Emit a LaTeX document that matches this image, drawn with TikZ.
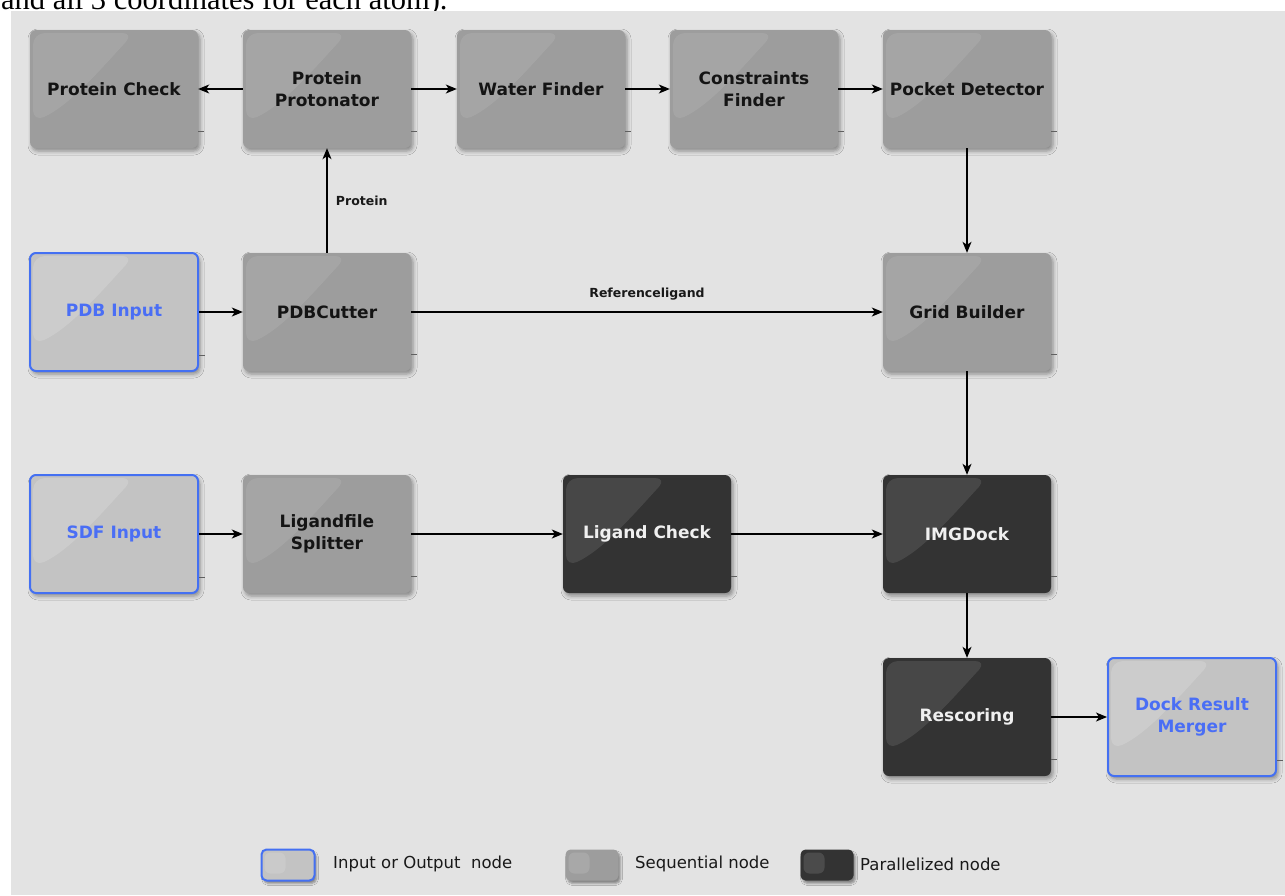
\documentclass[tikz,border=0pt]{standalone}
\usepackage{fontspec}
\setmainfont{DejaVu Sans}
\newfontfamily\serifx{Liberation Serif}
\usetikzlibrary{arrows.meta,shadows.blur,calc}
\definecolor{bgc}{HTML}{E3E3E3}
\definecolor{iofill}{HTML}{C3C3C3}
\definecolor{seqfill}{HTML}{9D9D9D}
\definecolor{parfill}{HTML}{333333}
\definecolor{blueb}{HTML}{4470F2}
\definecolor{bluet}{HTML}{4A6EF5}
\begin{document}
\begin{tikzpicture}[x=1pt,y=-1pt,
  box/.style={rectangle,rounded corners=6pt,minimum width=168pt,minimum height=118pt,inner sep=0pt,align=center,
    font=\bfseries\fontsize{17}{22}\selectfont,
    blur shadow={shadow xshift=2pt,shadow yshift=-3pt,shadow blur radius=4pt,shadow opacity=40}},
  gloss/.style={path picture={\fill[white,fill opacity=#1,rounded corners=12pt]
      ([shift={(3,3)}]path picture bounding box.north west) --
      ([shift={(104,3)}]path picture bounding box.north west)
      .. controls ([shift={(70,40)}]path picture bounding box.north west) and ([shift={(40,75)}]path picture bounding box.north west) ..
      ([shift={(3,92)}]path picture bounding box.north west) -- cycle;}},
  iobox/.style={box,fill=iofill,draw=blueb,line width=2pt,text=bluet,gloss=0.16},
  seqbox/.style={box,fill=seqfill,text=black!92,gloss=0.09},
  parbox/.style={box,fill=parfill,text=white!94!black,gloss=0.1},
  legbox/.style={rectangle,rounded corners=5pt,minimum width=53pt,minimum height=31pt,inner sep=0pt,
    blur shadow={shadow xshift=2pt,shadow yshift=-3pt,shadow blur radius=2pt,shadow opacity=40},
    path picture={\fill[white,fill opacity=0.12,rounded corners=6pt]
      ([shift={(3,3)}]path picture bounding box.north west) rectangle
      ([shift={(24,24)}]path picture bounding box.north west);}},
  arr/.style={-{Stealth[length=11pt,width=9pt,inset=3pt]},line width=1.2pt,black},
  lab/.style={font=\bfseries\fontsize{12.5}{14}\selectfont,text=black!90},
  legtext/.style={font=\fontsize{16.5}{18}\selectfont,anchor=west,text=black!90,inner sep=0pt},
  tickc/.style={gray!75!black,line width=0.8pt}
]
\useasboundingbox (0,0) rectangle (1285,895);
\fill[white] (0,0) rectangle (1285,895);
\begin{scope}
\clip (0,0) rectangle (1285,11);
\node[anchor=base west,inner sep=0pt,font=\serifx\fontsize{30.5}{32}\selectfont] (hdr) at (1,9) {and all 3 coordinates for each atom).};
\end{scope}
\fill[bgc] (11,11) rectangle (1285,895);

% row 1
\node[seqbox] (pc)  at (114,89) {Protein Check};
\node[seqbox] (pp)  at (327,89) {Protein\\Protonator};
\node[seqbox] (wf)  at (541,89) {Water Finder};
\node[seqbox] (cf)  at (754,89) {Constraints\\Finder};
\node[seqbox] (pd)  at (967,89) {Pocket Detector};
% row 2
\node[iobox]  (pdb) at (114,312) {PDB Input};
\node[seqbox] (cut) at (327,312) {PDBCutter};
\node[seqbox] (gb)  at (967,312) {Grid Builder};
% row 3
\node[iobox]  (sdf) at (114,534) {SDF Input};
\node[seqbox] (spl) at (327,534) {Ligandfile\\Splitter};
\node[parbox] (lc)  at (647,534) {Ligand Check};
\node[parbox] (img) at (967,534) {IMGDock};
% row 4
\node[parbox] (res) at (967,717) {Rescoring};
\node[iobox]  (drm) at (1192,717) {Dock Result\\Merger};

\foreach \n in {pc,pp,wf,cf,pd,pdb,cut,gb,sdf,spl,lc,img,res,drm}
  \draw[tickc] ([yshift=17pt]\n.south east) -- ++(6,0);

% connectors
\draw[arr] (pp) -- (pc);
\draw[arr] (pp) -- (wf);
\draw[arr] (wf) -- (cf);
\draw[arr] (cf) -- (pd);
\draw[arr] (pd) -- (gb);
\draw[arr] (cut) -- node[lab,right,pos=0.5,xshift=5pt] (lprot) {Protein} (pp);
\draw[arr] (pdb) -- (cut);
\draw[arr] (cut) -- node[lab,above,yshift=8pt] (lref) {Referenceligand} (gb);
\draw[arr] (gb) -- (img);
\draw[arr] (sdf) -- (spl);
\draw[arr] (spl) -- (lc);
\draw[arr] (lc) -- (img);
\draw[arr] (img) -- (res);
\draw[arr] (res) -- (drm);

% legend
\node[legbox,fill=iofill,draw=blueb,line width=2pt] (lg1) at (288,865) {};
\node[legtext] (lt1) at (333,864) {Input or Output\ \ node};
\node[legbox,fill=seqfill] (lg2) at (592,865) {};
\node[legtext] (lt2) at (635,864) {Sequential node};
\node[legbox,fill=parfill] (lg3) at (827,865) {};
\node[legtext] (lt3) at (860,864) {Parallelized node};
\end{tikzpicture}
\end{document}
